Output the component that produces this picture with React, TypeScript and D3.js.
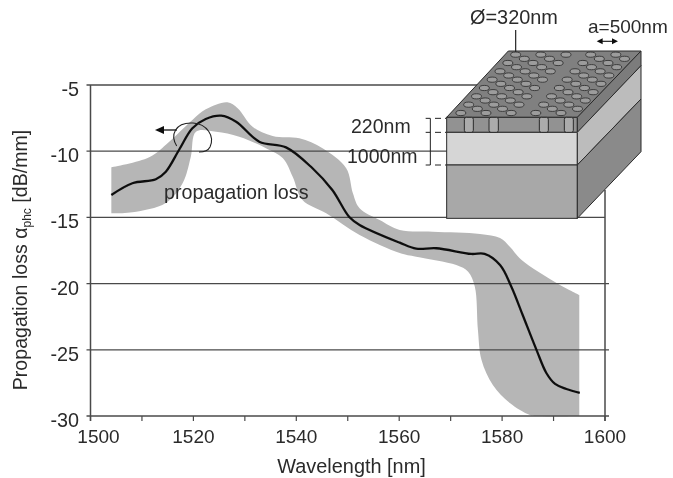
import React from "react";
import * as d3 from "d3";

const lineWl = [1504.05,1508.14,1512.7,1514.64,1517.2,1519.8,1522.4,1525.4,1528.3,1532.8,1538,1543.1,1547,1550.3,1552.3,1560.1,1563.3,1567.2,1574,1576.6,1579.6,1581.8,1584,1586.7,1588.6,1590.3,1592.5,1595.1];
const lineLoss = [-13.31,-12.42,-12.12,-11.55,-9.91,-8.27,-7.57,-7.32,-7.77,-9.28,-9.71,-11.27,-12.93,-14.97,-15.57,-16.91,-17.36,-17.33,-17.76,-17.76,-18.6,-20.23,-22.37,-25.02,-26.75,-27.58,-27.96,-28.26];
const upperWl = [1504.05,1511.4,1515.3,1519.8,1522.4,1526.6,1528.6,1531.5,1535.4,1540.6,1545.1,1549.7,1551,1552.3,1556.2,1560.1,1566.5,1575.7,1579.6,1581.5,1583.8,1590.6,1595];
const upperLoss = [-11.22,-10.46,-9.28,-7.64,-6.84,-6.31,-6.76,-8.15,-8.85,-9.03,-9.78,-11.29,-13.18,-14.31,-15.2,-15.95,-16.08,-16.25,-16.56,-17.21,-18.22,-19.95,-20.86];
const lowerWl = [1504.05,1508.14,1514.64,1517.9,1519.5,1520.5,1524.4,1528.9,1534.1,1537.4,1539.3,1541.2,1545.8,1552.3,1560.1,1563.3,1571.1,1573.4,1574.7,1575.3,1576,1578.2,1581.5,1585.4,1587.3,1595];
const lowerLoss = [-14.69,-14.61,-13.91,-12.42,-10.42,-8.53,-8.53,-8.9,-9.78,-10.54,-11.93,-13.69,-14.69,-16.33,-17.69,-17.97,-18.6,-19.1,-20.23,-23.5,-25.77,-27.66,-29.02,-29.92,-30,-30];
const xLabels = [1500,1520,1540,1560,1580,1600];
const xMinor = [1510,1530,1550,1570,1590];
const yLabels = [-5,-10,-15,-20,-25,-30];

const FONT = "'Liberation Sans', Arial, sans-serif";
const TEXT = "#2b2b2b";
const AXIS = "#4a4a4a";

const x = d3.scaleLinear().domain([1500, 1600]).range([90.5, 605]);
const y = d3.scaleLinear().domain([-5, -30]).range([85, 416]);

// inset illustration, measured in 3x crop units
const ix = d3.scaleLinear().domain([0, 3]).range([330, 331]);
const iy = d3.scaleLinear().domain([0, 3]).range([0, 1]);
const poly = (pts: number[][]) => pts.map((p) => `${ix(p[0])},${iy(p[1])}`).join(" ");

const frontX = [350, 742];
const layerY = [352, 397, 495, 655];
const rightTopY = [153, 197, 297, 455];
const backX = 933;
const frontFill = ["#929292", "#d6d6d6", "#a8a8a8"];
const rightFill = ["#7c7c7c", "#bcbcbc", "#8a8a8a"];
const pillars = [[403, 430], [477, 505], [628, 655], [703, 730]];
const blockStarts = [[557, 5], [782, 4]];

function holes() {
  const out: number[][] = [];
  blockStarts.forEach(([u0, count]) => {
    d3.range(count).forEach((m) => {
      const u = u0 + 37.75 * m;
      const first = 164 + ((12.5 * m) % 25);
      for (let py = first; py <= 342; py += 25) {
        const px = u - 0.94 * (py - 164);
        out.push([px, py]);
      }
    });
  });
  return out;
}

export default function App() {
  const line = d3.line<number>().x((d) => x(d)).y((_, i) => y(lineLoss[i])).curve(d3.curveCatmullRom.alpha(0.5));
  const upperPts: [number, number][] = upperWl.map((w, i) => [x(w), y(upperLoss[i])]);
  const lowerPts: [number, number][] = lowerWl.map((w, i) => [x(w), y(lowerLoss[i])]);
  const curve = d3.line().curve(d3.curveCatmullRom.alpha(0.5));
  const band = (curve(upperPts) as string) + "L" + (curve(lowerPts.slice().reverse()) as string).slice(1) + "Z";

  const gridEnd: Record<number, number> = { [-5]: 480, [-10]: 447, [-15]: 605, [-20]: 609, [-25]: 609 };

  return (
    <svg width={673} height={478} style={{ position: "absolute", left: 0, top: 0, background: "#fff" }} fontFamily={FONT} fill={TEXT}>
      <defs>
        <filter id="soft" x="0" y="0" width="100%" height="100%">
          <feGaussianBlur stdDeviation={0.4} />
        </filter>
      </defs>
      <g filter="url(#soft)">
      <path d={band} fill="#b6b6b6" />
      {yLabels.slice(0, 5).map((v) => (
        <line key={v} x1={x(1500) - 4} x2={gridEnd[v]} y1={y(v)} y2={y(v)} stroke={AXIS} strokeWidth={1.3} />
      ))}
      <line x1={x(1500)} x2={x(1500)} y1={y(-5)} y2={y(-30) + 5} stroke={AXIS} strokeWidth={1.5} />
      <line x1={x(1600)} x2={x(1600)} y1={190} y2={y(-30) + 5} stroke={AXIS} strokeWidth={1.5} />
      <line x1={x(1500) - 4} x2={x(1600) + 4} y1={y(-30)} y2={y(-30)} stroke={AXIS} strokeWidth={1.5} />
      {xLabels.concat(xMinor).map((v) => (
        <line key={v} x1={x(v)} x2={x(v)} y1={y(-30)} y2={y(-30) + 5} stroke={AXIS} strokeWidth={1.2} />
      ))}
      <path d={line(lineWl) as string} fill="none" stroke="#111" strokeWidth={2.3} />

      {yLabels.map((v) => (
        <text key={v} x={79} y={y(v) + 11} textAnchor="end" fontSize={19.8}>{v}</text>
      ))}
      {xLabels.map((v) => (
        <text key={v} x={v === 1500 ? x(v) + 8 : x(v)} y={442.5} textAnchor="middle" fontSize={19}>{v}</text>
      ))}
      <text x={351.5} y={473} textAnchor="middle" fontSize={19.9}>Wavelength [nm]</text>
      <text transform="translate(27,260) rotate(-90)" textAnchor="middle" fontSize={19.6}>
        Propagation loss α
        <tspan fontSize={12} dy={4}>phc</tspan>
        <tspan dy={-4}> [dB/mm]</tspan>
      </text>

      <text x={164} y={199} fontSize={19.7}>propagation loss</text>
      <g fill="none" stroke="#222" strokeWidth={1.1}>
        <path d="M176.7,146 C170,135 175,122 193,123 C207,124 215,136 210,147 C208,151 204,152 199,152" />
        <line x1={177} x2={160} y1={130} y2={130} strokeWidth={1.4} />
      </g>
      <path d="M155,130 L164,126 L164,134 Z" fill="#111" />

      {/* inset */}
      <polygon points={poly([[frontX[0], layerY[0]], [535, 153], [backX, 153], [frontX[1], layerY[0]]])} fill="#808080" stroke="#2a2a2a" strokeWidth={1} />
      {[0, 1, 2].map((k) => (
        <g key={k}>
          <rect x={ix(frontX[0])} y={iy(layerY[k])} width={ix(frontX[1]) - ix(frontX[0])} height={iy(layerY[k + 1]) - iy(layerY[k])} fill={frontFill[k]} stroke="#2a2a2a" strokeWidth={1} />
          <polygon
            points={poly([[frontX[1], layerY[k]], [backX, rightTopY[k]], [backX, rightTopY[k + 1]], [frontX[1], layerY[k + 1]]])}
            fill={rightFill[k]} stroke="#2a2a2a" strokeWidth={1}
          />
        </g>
      ))}
      {pillars.map((p) => (
        <rect key={p[0]} x={ix(p[0])} y={iy(layerY[0])} width={ix(p[1]) - ix(p[0])} height={iy(layerY[1]) - iy(layerY[0])} rx={2} fill="#ababab" stroke="#2a2a2a" strokeWidth={1} />
      ))}
      {holes().map((h, i) => (
        <ellipse key={i} cx={ix(h[0])} cy={iy(h[1])} rx={5} ry={2.6} fill="#9c9c9c" stroke="#333" strokeWidth={0.9} />
      ))}
      <g stroke="#222" strokeWidth={1} fill="none">
        <path d={`M${ix(287)},${iy(355)}H${ix(301)}V${iy(495)}H${ix(287)}`} />
        <line x1={ix(287)} x2={ix(301)} y1={iy(397)} y2={iy(397)} />
        {[355, 397, 495].map((v) => (
          <line key={v} x1={ix(315)} x2={ix(348)} y1={iy(v)} y2={iy(v)} strokeDasharray="6 4" />
        ))}
        <line x1={ix(557)} x2={ix(557)} y1={iy(90)} y2={iy(155)} strokeWidth={1.2} />
        <line x1={ix(808)} x2={ix(858)} y1={iy(124)} y2={iy(124)} strokeWidth={1.2} />
      </g>
      <path d={`M${ix(800)},${iy(124)}l6,-3v6Z M${ix(864)},${iy(124)}l-6,-3v6Z`} fill="#111" />
      <text x={351} y={133} fontSize={19.5}>220nm</text>
      <text x={347} y={163} fontSize={19.5}>1000nm</text>
      <text x={470} y={24} fontSize={19.9}>Ø=320nm</text>
      <text x={588} y={33} fontSize={19}>a=500nm</text>
      </g>
    </svg>
  );
}
